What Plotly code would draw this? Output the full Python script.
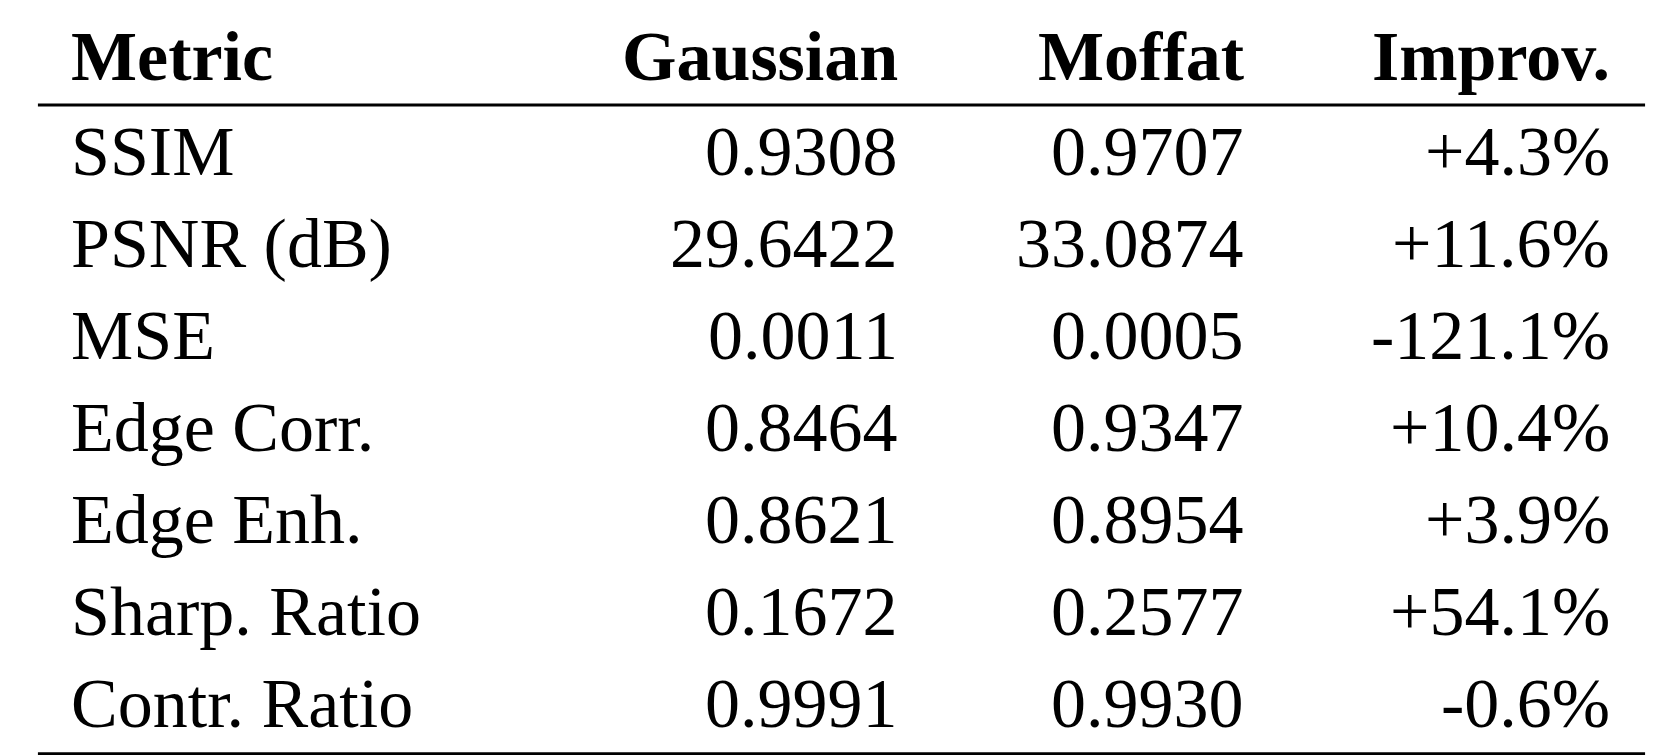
import plotly.graph_objects as go

headers = ["Metric", "Gaussian", "Moffat", "Improv."]
metrics = ["SSIM", "PSNR (dB)", "MSE", "Edge Corr.", "Edge Enh.", "Sharp. Ratio", "Contr. Ratio"]
gaussian = ["0.9308", "29.6422", "0.0011", "0.8464", "0.8621", "0.1672", "0.9991"]
moffat = ["0.9707", "33.0874", "0.0005", "0.9347", "0.8954", "0.2577", "0.9930"]
improv = ["+4.3%", "+11.6%", "-121.1%", "+10.4%", "+3.9%", "+54.1%", "-0.6%"]

H = 700.0
col_x = [0.037, 0.537, 0.745, 0.965]
col_anchor = ["left", "right", "right", "right"]
header_y = 1 - 45 / H
row_y = [1 - (133 + i * 85.3) / H for i in range(len(metrics))]
font = "Liberation Serif"

fig = go.Figure()
ann = []
for c, h in enumerate(headers):
    ann.append(dict(x=col_x[c], y=header_y, text="<b>%s</b>" % h, xanchor=col_anchor[c],
                    yanchor="middle", showarrow=False, xref="paper", yref="paper",
                    font=dict(family=font, size=70, color="black")))
cols = [metrics, gaussian, moffat, improv]
for c, col in enumerate(cols):
    for r, v in enumerate(col):
        ann.append(dict(x=col_x[c], y=row_y[r], text=v, xanchor=col_anchor[c],
                        yanchor="middle", showarrow=False, xref="paper", yref="paper",
                        font=dict(family=font, size=70, color="black")))
shapes = [
    dict(type="line", xref="paper", yref="paper", x0=0.018, x1=0.985, y0=1 - 90 / H, y1=1 - 90 / H,
         line=dict(color="black", width=3)),
    dict(type="line", xref="paper", yref="paper", x0=0.018, x1=0.985, y0=1 - 692 / H, y1=1 - 692 / H,
         line=dict(color="black", width=4)),
]
fig.update_layout(width=1662, height=755, margin=dict(l=0, r=0, t=0, b=0),
                  paper_bgcolor="white", plot_bgcolor="white",
                  xaxis=dict(visible=False), yaxis=dict(visible=False),
                  annotations=ann, shapes=shapes)
fig.write_html("out.html")
